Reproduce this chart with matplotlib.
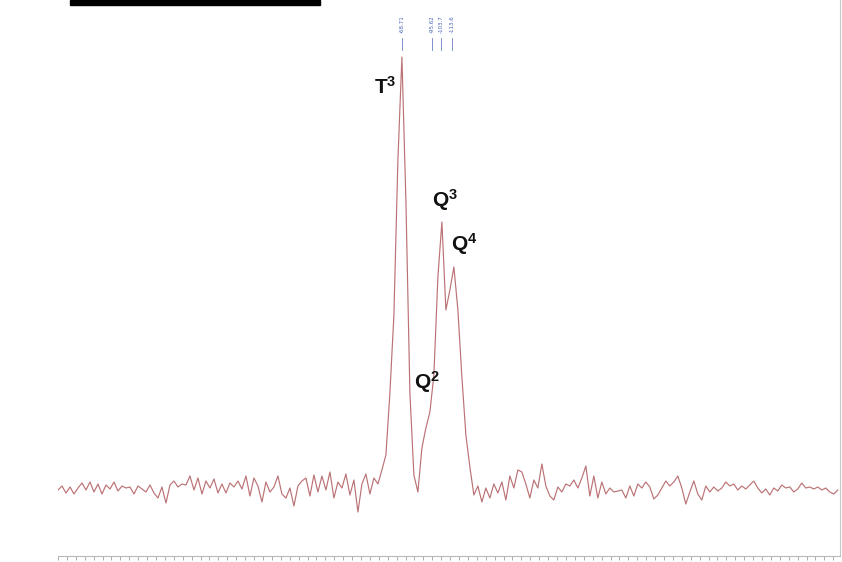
import numpy as np
import matplotlib
matplotlib.use("Agg")
import matplotlib.pyplot as plt
from matplotlib.ticker import MultipleLocator, NullFormatter
from matplotlib.patches import Rectangle

plt.rcParams["mathtext.default"] = "regular"

# ---- data (29Si NMR-like spectrum, arbitrary intensity units) ----
shift_start = 240.0    # ppm, left end of the spectrum
shift_end = -460.0     # ppm, right end of the spectrum
intensity = [
    0, 4, -3, 3, -4, 2, 7, 0, 8, -2,
    6, -4, 5, 1, 8, -1, 4, 2, 3, -4,
    4, 1, -2, 5, -3, -8, 3, -13, 5, 9,
    3, 6, 5, 14, 0, 12, -4, 9, 2, 11,
    -3, 6, -3, 7, 3, 9, 1, 14, -6, 12,
    4, -12, 8, -2, 3, 14, -4, -8, 2, -16,
    4, 9, 12, -6, 15, -2, 14, 0, 18, -8,
    8, 2, 16, -5, 10, -22, 6, 16, -4, 12,
    6, 20, 35, 97, 175, 330, 433, 290, 97, 15,
    -2, 42, 62, 78, 115, 213, 268, 180, 200, 223,
    180, 113, 55, 23, -5, 4, -12, 2, -8, 6,
    -3, 8, -10, 14, 2, 20, 18, 6, -8, 10,
    2, 26, 4, -6, -10, 3, -2, 6, 4, 10,
    2, 12, 24, -6, 14, -8, 8, -4, 2, -2,
    -1, 0, -8, 4, -6, 6, 2, 8, 3, -9,
    -5, 2, 9, 4, 8, 14, 2, -14, -2, 9,
    -4, -10, 4, -2, 3, -1, 2, 8, 4, 6,
    0, 4, 1, 5, 9, 2, -3, 1, -5, 2,
    -1, 5, 2, 3, -2, 1, 7, 2, 3, 1,
    3, 0, 2, -2, -4, 0,
]
shift = np.linspace(shift_start, shift_end, len(intensity))

peak_names = ["T$^{3}$", "Q$^{2}$", "Q$^{3}$", "Q$^{4}$"]
peak_label_shift = [-53.5, -91.1, -107.3, -124.4]
peak_label_int = [403, 108, 290, 246]

pick_shift = [-68.7, -95.6, -103.7, -113.6]
pick_text = ["-68.71", "-95.62", "-103.7", "-113.6"]

# ---- figure ----
W, H = 842, 562
fig = plt.figure(figsize=(W / 100, H / 100), dpi=100)
ax = fig.add_axes([58 / W, 6 / H, (840 - 58) / W, (H - 6) / H])

ax.plot(shift, intensity, color="#bb7275", lw=0.85)

ax.set_xlim(shift_start, shift_end - 2.0)
ax.set_ylim(-66, 490)

for s in ["top", "left"]:
    ax.spines[s].set_visible(False)
ax.spines["bottom"].set_color("#b8b8b8")
ax.spines["right"].set_color("#c8c8c8")
ax.spines["bottom"].set_linewidth(0.8)
ax.spines["right"].set_linewidth(0.8)
ax.yaxis.set_visible(False)
ax.xaxis.set_major_locator(MultipleLocator(8))
ax.xaxis.set_major_formatter(NullFormatter())
ax.tick_params(axis="x", length=3, width=0.6, color="#a0a0a0", direction="out")

for name, xs, ys in zip(peak_names, peak_label_shift, peak_label_int):
    ax.text(xs, ys, name, fontsize=15, fontweight="bold", color="#111111",
            ha="center", va="center", fontfamily="Liberation Sans")

for xs, t in zip(pick_shift, pick_text):
    ax.text(xs, 466, t, fontsize=4, color="#4a64b8", rotation=90,
            ha="center", va="center")
    ax.plot([xs, xs], [440, 452], color="#6a7fc4", lw=0.6)

fig.patches.append(Rectangle((70 / W, (H - 5) / H), 250 / W, 5 / H,
                             transform=fig.transFigure, color="black"))

fig.savefig("out.png", dpi=100, facecolor="white")
